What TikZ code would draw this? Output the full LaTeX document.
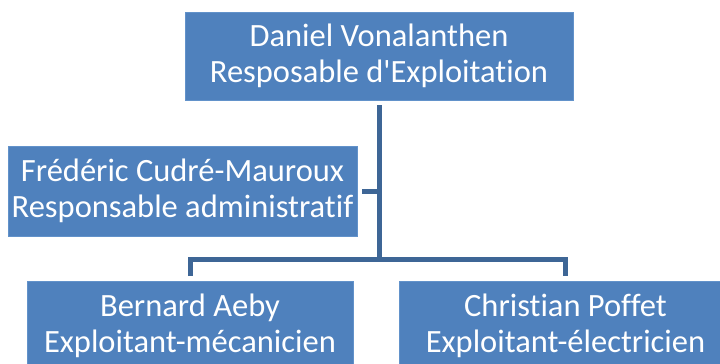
\documentclass[tikz,border=0pt]{standalone}
\usepackage{fontspec}
\setmainfont{Carlito}[Ligatures=NoCommon]

\definecolor{boxblue}{RGB}{79,129,189}
\definecolor{boxedge}{RGB}{98,146,202}
\definecolor{linkblue}{RGB}{62,102,150}

\tikzset{
  person/.style={rectangle, fill=boxblue, draw=boxedge, line width=0.6pt,
    text=white, align=center, inner sep=0pt, outer sep=5pt,
    font=\fontsize{32.5}{36}\selectfont},
  link/.style={draw=linkblue, line width=5pt}
}

\begin{document}
\begin{tikzpicture}[x=1pt,y=-1pt]
\def\xt{379}
\def\xf{182.5}
\def\xb{190}
\def\xc{565.5}

\def\yt{56}
\def\yf{191}
\def\ybus{259.5}
\def\yb{325.5}

\useasboundingbox (0,0) rectangle (720,364);
\clip (0,0) rectangle (720,364);

\node[person, minimum width=388pt, minimum height=88pt] (dan) at (\xt,\yt)
  {Daniel Vonalanthen\\Resposable d\textquotesingle Exploitation};
\node[person, minimum width=349pt, minimum height=90pt] (fred) at (\xf,\yf)
  {Frédéric Cudré-Mauroux\\Responsable administratif};
\node[person, minimum width=326pt, minimum height=89pt] (bern) at (\xb,\yb)
  {Bernard Aeby\\Exploitant-mécanicien};
\node[person, minimum width=333pt, minimum height=89pt] (chris) at (\xc,\yb)
  {Christian Poffet\\Exploitant-électricien};

\coordinate (bus) at (\xt,\ybus);

\draw[link] (dan) -- (bus);
\draw[link] (fred) -- (fred -| bus);
\draw[link] (bern.north) |- (bus) -| (chris.north);

\end{tikzpicture}
\end{document}
